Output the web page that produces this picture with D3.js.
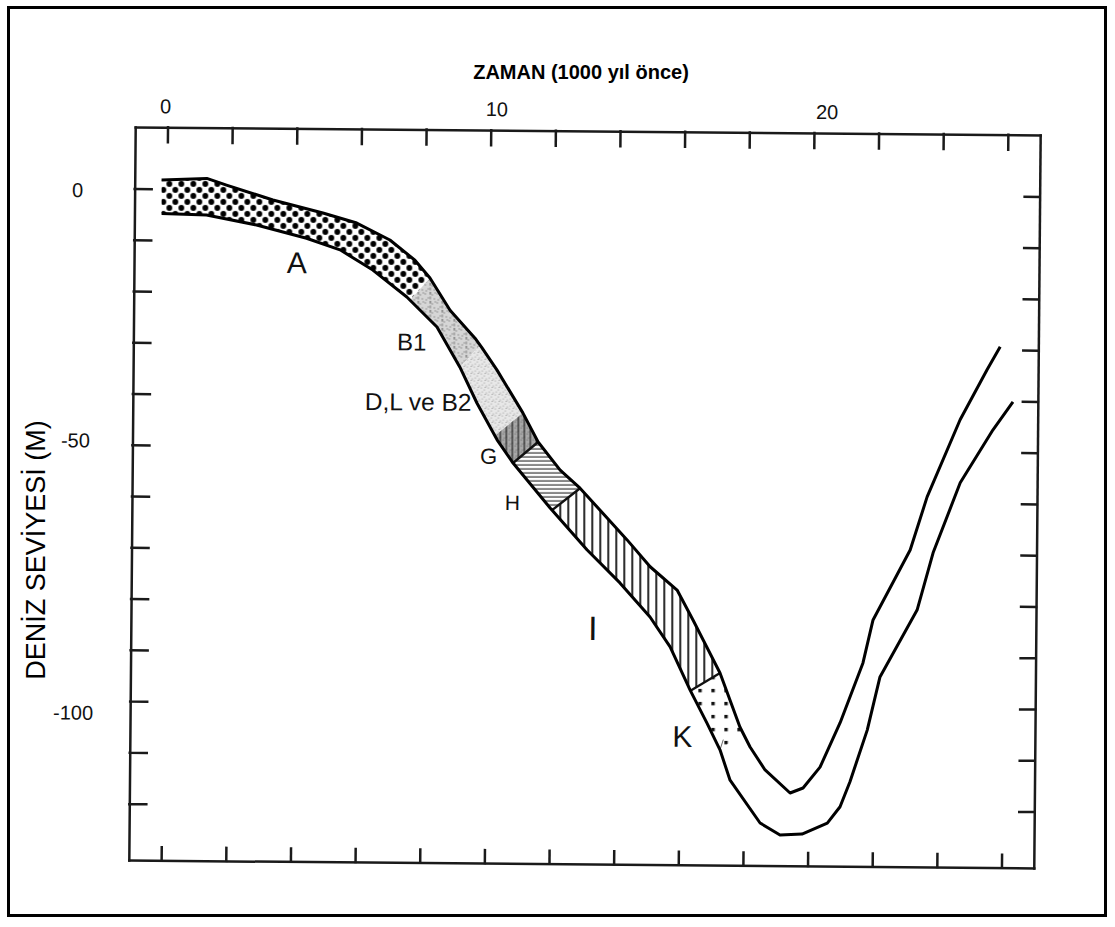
<!DOCTYPE html>
<html>
<head>
<meta charset="utf-8">
<script src="https://cdn.jsdelivr.net/npm/d3@7"></script>
<style>
body { margin: 0; background: #fff; }
svg { display: block; font-family: "Liberation Sans", Arial, sans-serif; }
</style>
</head>
<body>
<div class="vis-sealevel"></div>
<script>
// time in 1000 years before present, depth in metres
const upperT = [-0.17, 1.23, 1.84, 3.28, 4.83, 5.88, 6.91, 7.69, 8.16, 8.79, 9.57, 9.79, 10.26, 11.07, 11.55, 12.24, 12.86, 14.33, 15.05, 15.89, 16.39, 17.24, 17.87, 18.19, 18.66, 19.44, 19.84, 20.36, 20.97, 21.66, 21.96, 23.09, 23.6, 24.6, 25.42, 25.82];
const upperD = [1.7, 2.1, 0.84, -2.0, -4.45, -6.35, -9.6, -13.5, -16.95, -23.2, -28.6, -30.5, -34.8, -43.1, -48.75, -54.2, -57.7, -67.7, -72.9, -77.4, -83.2, -93.5, -104.0, -107.9, -112.35, -116.8, -115.8, -111.7, -103.0, -91.3, -82.9, -69.2, -58.8, -43.7, -33.9, -29.4];
const lowerT = [-0.16, 1.23, 2.78, 4.33, 5.37, 6.39, 7.45, 8.39, 9.11, 9.65, 10.28, 10.78, 11.94, 13.09, 14.12, 15.06, 15.69, 16.32, 16.85, 17.26, 17.58, 18.52, 19.14, 19.82, 20.6, 20.99, 21.29, 21.81, 22.19, 23.32, 23.8, 24.62, 25.62, 26.23];
const lowerD = [-4.8, -5.05, -6.9, -9.4, -11.6, -15.5, -20.7, -26.5, -34.3, -41.3, -48.4, -52.9, -61.6, -69.7, -76.1, -82.7, -88.5, -96.9, -103.3, -108.5, -114.4, -122.7, -125.0, -124.8, -122.6, -119.4, -114.5, -104.4, -94.0, -80.9, -69.7, -56.0, -45.6, -40.1];

// zone limits along the band (lower edge / upper edge)
const zones = ["A", "B1", "DLB2", "G", "H", "I", "K"];
const zoneLowerT = [-0.16, 7.55, 9.11, 10.21, 10.78, 12.0, 16.33, 17.26];
const zoneUpperT = [-0.17, 8.16, 9.73, 11.07, 11.55, 12.86, 17.24, 17.97];

const labelText = ["A", "B1", "D,L ve B2", "G", "H", "I", "K"];
const labelT = [3.73, 7.16, 6.18, 9.76, 10.54, 13.15, 15.78];
const labelD = [-16.2, -31.1, -42.8, -53.1, -62.1, -87.3, -108.0];
const labelSize = [30, 24, 24.5, 22, 21, 34, 30];

const xTicks = d3.range(0, 27, 2);
const yTicks = d3.range(0, -121, -10);
const xLabels = [0, 10, 20];
const yLabels = [0, -50, -100];

const W = 1115, H = 927;
const svg = d3.select('.vis-sealevel').append('svg')
    .attr('width', W)
    .attr('height', H);

svg.append('rect')
    .attr('x', 8.5).attr('y', 7.5)
    .attr('width', 1097).attr('height', 908)
    .attr('fill', 'none').attr('stroke', '#000').attr('stroke-width', 3);

const x = d3.scaleLinear().domain([-1, 27]).range([132, 1037]);
const y = d3.scaleLinear().domain([12, -131]).range([131, 864]);

// fill patterns (counter-rotated so hatching stays level on screen)
const defs = svg.append('defs');
const pat = (id, w, h, bg) => {
    const p = defs.append('pattern').attr('id', id)
        .attr('patternUnits', 'userSpaceOnUse')
        .attr('patternTransform', 'rotate(-0.5)')
        .attr('width', w).attr('height', h);
    p.append('rect').attr('width', w).attr('height', h).attr('fill', bg);
    return p;
};
let p = pat('pA', 12, 12, '#fff');
p.append('circle').attr('cx', 3).attr('cy', 3).attr('r', 2.9).attr('fill', '#000');
p.append('circle').attr('cx', 9).attr('cy', 9).attr('r', 2.9).attr('fill', '#000');

const specks = (p, pts, col, r) => pts.forEach(d => p.append('circle').attr('cx', d[0]).attr('cy', d[1]).attr('r', r).attr('fill', col));
p = pat('pB1', 12, 9, '#d6d6d6');
specks(p, [[1, 2], [4, 6], [8, 3], [2, 8], [10, 7], [6, 1], [11, 1]], '#7a7a7a', 0.65);
p.append('line').attr('x1', 6).attr('x2', 6).attr('y1', 0).attr('y2', 9)
    .attr('stroke', '#555').attr('stroke-width', 0.7).attr('stroke-dasharray', '3,1.5');
p = pat('pD', 7, 7, '#e8e8e8');
specks(p, [[1, 1], [4, 3], [2, 5], [6, 6], [5, 0.5]], '#909090', 0.6);
p = pat('pG', 6, 6, '#a8a8a8');
specks(p, [[1, 1], [4, 4], [2, 5]], '#555', 0.6);
p.append('line').attr('x1', 4).attr('x2', 4).attr('y1', 0).attr('y2', 6)
    .attr('stroke', '#2a2a2a').attr('stroke-width', 1.3);
p = pat('pH', 8, 4, '#fff');
p.append('rect').attr('x', 0).attr('y', 1.5).attr('width', 8).attr('height', 1.1).attr('fill', '#222');
p = pat('pI', 8, 8, '#fff');
p.append('rect').attr('x', 3).attr('y', 0).attr('width', 1.8).attr('height', 8).attr('fill', '#111');
p = pat('pK', 13, 13, '#fff');
p.append('rect').attr('x', 5).attr('y', 5).attr('width', 3.4).attr('height', 3.4).attr('fill', '#111');
const zoneFill = {A: 'url(#pA)', B1: 'url(#pB1)', DLB2: 'url(#pD)', G: 'url(#pG)', H: 'url(#pH)', I: 'url(#pI)', K: 'url(#pK)'};

// the scanned figure is a little tilted
const g = svg.append('g').attr('transform', 'rotate(0.5,586,497)');

// value on an edge at time t
const at = (ts, ds, t) => {
    const i = d3.bisectRight(ts, t);
    if (i <= 0) return ds[0];
    if (i >= ts.length) return ds[ds.length - 1];
    const f = (t - ts[i - 1]) / (ts[i] - ts[i - 1]);
    return ds[i - 1] + f * (ds[i] - ds[i - 1]);
};
const slice = (ts, ds, t0, t1) => {
    const pts = [[t0, at(ts, ds, t0)]];
    ts.forEach((t, i) => { if (t > t0 && t < t1) pts.push([t, ds[i]]); });
    pts.push([t1, at(ts, ds, t1)]);
    return pts;
};
const line = d3.line().x(d => x(d[0])).y(d => y(d[1]));

zones.forEach((z, i) => {
    const poly = slice(upperT, upperD, zoneUpperT[i], zoneUpperT[i + 1])
        .concat(slice(lowerT, lowerD, zoneLowerT[i], zoneLowerT[i + 1]).reverse());
    g.append('path')
        .attr('d', line(poly) + 'Z')
        .attr('fill', zoneFill[z]);
});

// dividers between the hatched zones
[4, 5, 6].forEach(i => {
    g.append('path')
        .attr('d', line([[zoneLowerT[i], at(lowerT, lowerD, zoneLowerT[i])], [zoneUpperT[i], at(upperT, upperD, zoneUpperT[i])]]))
        .attr('stroke', '#111').attr('stroke-width', 2.4).attr('fill', 'none');
});
g.append('path')
    .attr('d', line([[zoneLowerT[7], at(lowerT, lowerD, zoneLowerT[7])], [zoneLowerT[7] + 0.1, at(lowerT, lowerD, zoneLowerT[7]) + 2]]))
    .attr('stroke', '#444').attr('stroke-width', 0.8).attr('fill', 'none');

// band edges
[[upperT, upperD], [lowerT, lowerD]].forEach(e => {
    g.append('path')
        .attr('d', line(e[0].map((t, i) => [t, e[1][i]])))
        .attr('fill', 'none').attr('stroke', '#000')
        .attr('stroke-width', 3).attr('stroke-linejoin', 'round');
});

// frame with inward ticks
const styleAxis = s => {
    s.selectAll('path, line').attr('stroke', '#1a1a1a').attr('stroke-width', 2.5).attr('stroke-linecap', 'square');
    s.selectAll('text').remove();
};
g.append('g').attr('transform', `translate(0,${y.range()[0]})`)
    .call(d3.axisTop(x).tickValues(xTicks).tickSize(-15).tickSizeOuter(0)).call(styleAxis);
g.append('g').attr('transform', `translate(0,${y.range()[1]})`)
    .call(d3.axisBottom(x).tickValues(xTicks).tickSize(-13).tickSizeOuter(0)).call(styleAxis);
g.append('g').attr('transform', `translate(${x.range()[0]},0)`)
    .call(d3.axisLeft(y).tickValues(yTicks).tickSize(-17).tickSizeOuter(0)).call(styleAxis);
g.append('g').attr('transform', `translate(${x.range()[1]},0)`)
    .call(d3.axisRight(y).tickValues(yTicks).tickSize(-15).tickSizeOuter(0)).call(styleAxis);

// tick labels
const xLabelDx = [-2, 6, 13];
g.selectAll('.xlab').data(xLabels).enter().append('text')
    .attr('x', (d, i) => x(d) + xLabelDx[i]).attr('y', 117)
    .attr('text-anchor', 'middle').attr('font-size', 20).attr('fill', '#111')
    .text(d => d);
const yLabelDy = [2, -4, 12];
g.selectAll('.ylab').data(yLabels).enter().append('text')
    .attr('x', 75).attr('y', (d, i) => y(d) + yLabelDy[i])
    .attr('dy', '0.35em')
    .attr('text-anchor', 'middle').attr('font-size', 20).attr('fill', '#111')
    .text(d => d);

// zone names
g.selectAll('.zlab').data(labelText).enter().append('text')
    .attr('x', (d, i) => x(labelT[i])).attr('y', (d, i) => y(labelD[i]))
    .attr('font-size', (d, i) => labelSize[i]).attr('fill', '#111')
    .text(d => d);

// axis titles
svg.append('text')
    .attr('x', 581).attr('y', 79)
    .attr('text-anchor', 'middle').attr('font-size', 20).attr('font-weight', 'bold')
    .text('ZAMAN (1000 yıl önce)');
svg.append('text')
    .attr('transform', 'translate(35,550) rotate(-90)')
    .attr('text-anchor', 'middle').attr('dy', '0.36em').attr('font-size', 27)
    .text('DENİZ SEVİYESİ (M)');
</script>
</body>
</html>
